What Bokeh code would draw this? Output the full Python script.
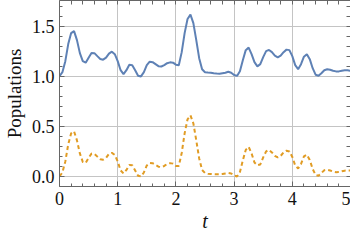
from bokeh.plotting import figure
from bokeh.models import LinearAxis, FixedTicker, Range1d, Grid, ColumnDataSource
from bokeh.embed import file_html
from bokeh.resources import INLINE

# ---- data ----
t = [0.00, 0.05, 0.10, 0.15, 0.20, 0.25, 0.30, 0.35, 0.40, 0.45,
     0.50, 0.55, 0.60, 0.65, 0.70, 0.75, 0.80, 0.85, 0.90, 0.95,
     1.00, 1.05, 1.10, 1.15, 1.20, 1.25, 1.30, 1.35, 1.40, 1.45,
     1.50, 1.55, 1.60, 1.65, 1.70, 1.75, 1.80, 1.85, 1.90, 1.95,
     2.00, 2.05, 2.10, 2.15, 2.20, 2.25, 2.30, 2.35, 2.40, 2.45,
     2.50, 2.55, 2.60, 2.65, 2.70, 2.75, 2.80, 2.85, 2.90, 2.95,
     3.00, 3.05, 3.10, 3.15, 3.20, 3.25, 3.30, 3.35, 3.40, 3.45,
     3.50, 3.55, 3.60, 3.65, 3.70, 3.75, 3.80, 3.85, 3.90, 3.95,
     4.00, 4.05, 4.10, 4.15, 4.20, 4.25, 4.30, 4.35, 4.40, 4.45,
     4.50, 4.55, 4.60, 4.65, 4.70, 4.75, 4.80, 4.85, 4.90, 4.95,
     5.00]

pop_total = [1.000, 1.040, 1.150, 1.320, 1.430, 1.450, 1.360, 1.230, 1.150, 1.135,
             1.185, 1.232, 1.230, 1.200, 1.172, 1.165, 1.185, 1.225, 1.245, 1.220,
             1.150, 1.060, 1.020, 1.060, 1.115, 1.110, 1.060, 1.005, 0.998, 1.040,
             1.110, 1.145, 1.140, 1.120, 1.100, 1.097, 1.110, 1.130, 1.138, 1.135,
             1.115, 1.110, 1.240, 1.430, 1.570, 1.614, 1.530, 1.360, 1.180, 1.070,
             1.040, 1.037, 1.035, 1.030, 1.027, 1.025, 1.030, 1.035, 1.045, 1.035,
             1.012, 1.003, 1.050, 1.160, 1.260, 1.285, 1.220, 1.140, 1.098, 1.120,
             1.190, 1.250, 1.262, 1.240, 1.205, 1.188, 1.205, 1.240, 1.265, 1.260,
             1.200, 1.110, 1.070, 1.120, 1.195, 1.220, 1.170, 1.080, 1.015, 1.005,
             1.030, 1.060, 1.070, 1.065, 1.055, 1.048, 1.048, 1.055, 1.060, 1.060,
             1.053]

pop_excited = [0.000, 0.040, 0.150, 0.320, 0.430, 0.450, 0.360, 0.230, 0.145, 0.135,
               0.185, 0.228, 0.225, 0.198, 0.172, 0.167, 0.185, 0.225, 0.235, 0.215,
               0.150, 0.060, 0.030, 0.065, 0.115, 0.112, 0.060, 0.008, 0.000, 0.040,
               0.110, 0.135, 0.132, 0.115, 0.098, 0.094, 0.105, 0.125, 0.133, 0.128,
               0.105, 0.105, 0.235, 0.430, 0.570, 0.610, 0.530, 0.360, 0.180, 0.065,
               0.035, 0.028, 0.025, 0.023, 0.022, 0.022, 0.025, 0.030, 0.035, 0.030,
               0.010, 0.000, 0.045, 0.160, 0.265, 0.295, 0.230, 0.140, 0.112, 0.120,
               0.190, 0.250, 0.265, 0.240, 0.205, 0.190, 0.205, 0.240, 0.257, 0.250,
               0.195, 0.110, 0.080, 0.125, 0.200, 0.217, 0.165, 0.075, 0.015, 0.007,
               0.035, 0.062, 0.067, 0.060, 0.050, 0.043, 0.044, 0.052, 0.058, 0.060,
               0.060]

x_major = [0, 1, 2, 3, 4, 5]
x_minor = [0.2, 0.4, 0.6, 0.8, 1.2, 1.4, 1.6, 1.8, 2.2, 2.4, 2.6, 2.8,
           3.2, 3.4, 3.6, 3.8, 4.2, 4.4, 4.6, 4.8]
y_major = [0.0, 0.5, 1.0, 1.5]
y_minor = [-0.1, 0.1, 0.2, 0.3, 0.4, 0.6, 0.7, 0.8, 0.9, 1.1, 1.2, 1.3, 1.4, 1.6, 1.7]
x_labels = {0: "0", 1: "1", 2: "2", 3: "3", 4: "4", 5: "5"}
y_labels = {0: "0.0", 0.5: "0.5", 1: "1.0", 1.5: "1.5"}

BLUE = "#5E81B5"
ORANGE = "#E19C24"
FRAME = "#666666"
FONT = "Liberation Serif"

src = ColumnDataSource(dict(t=t, a=pop_total, b=pop_excited))

p = figure(width=350, height=234, x_range=Range1d(0, 5), y_range=Range1d(-0.1, 1.755),
           output_backend="svg", toolbar_location=None,
           x_axis_location=None, y_axis_location=None,
           min_border_left=0, min_border_right=0, min_border_top=0, min_border_bottom=0)
p.outline_line_color = None
p.background_fill_color = "white"
p.border_fill_color = "white"

xt = FixedTicker(ticks=x_major, minor_ticks=x_minor)
yt = FixedTicker(ticks=y_major, minor_ticks=y_minor)
# frame ticks on the top/right sides carry no labels: draw them as unlabeled ticks
xt_frame = FixedTicker(ticks=[], minor_ticks=x_major + x_minor)
yt_frame = FixedTicker(ticks=[], minor_ticks=y_major + y_minor)

p.add_layout(Grid(dimension=0, ticker=xt, grid_line_color="#c4c4c4", grid_line_width=1))
p.add_layout(Grid(dimension=1, ticker=yt, grid_line_color="#c4c4c4", grid_line_width=1))


def style(ax):
    ax.axis_line_color = FRAME
    ax.axis_line_width = 1
    ax.major_tick_line_color = FRAME
    ax.minor_tick_line_color = FRAME
    ax.major_tick_in = 5
    ax.major_tick_out = 0
    ax.minor_tick_in = 3
    ax.minor_tick_out = 0
    ax.major_label_text_font = FONT
    ax.major_label_text_color = "#111111"
    ax.major_label_text_font_size = "18px"
    ax.axis_label_text_font = FONT
    ax.axis_label_text_color = "#111111"
    ax.axis_label_text_font_style = "normal"


bottom = LinearAxis(ticker=xt, major_label_overrides=x_labels, axis_label="t")
style(bottom)
bottom.major_label_standoff = 5
bottom.axis_label_standoff = 2
bottom.axis_label_text_font_size = "20px"
bottom.axis_label_text_font_style = "italic"
p.add_layout(bottom, "below")

left = LinearAxis(ticker=yt, major_label_overrides=y_labels, axis_label="Populations")
style(left)
left.major_label_standoff = 5
left.axis_label_standoff = 4
left.axis_label_text_font_size = "19px"
p.add_layout(left, "left")

top = LinearAxis(ticker=xt_frame)
style(top)
top.minor_tick_in = 4
top.major_label_standoff = 0
p.add_layout(top, "above")

right = LinearAxis(ticker=yt_frame)
style(right)
right.minor_tick_in = 4
right.major_label_standoff = 0
p.add_layout(right, "right")

p.line("t", "a", source=src, line_color=BLUE, line_width=2)
p.line("t", "b", source=src, line_color=ORANGE, line_width=2, line_dash="4 3")

open("out.html", "w").write(file_html(p, INLINE))
